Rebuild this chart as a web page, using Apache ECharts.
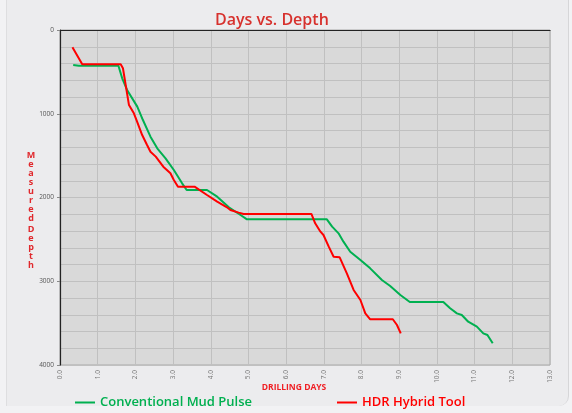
<!doctype html>
<html lang="en">
  <head>
    <meta charset="UTF-8" />
    <title>Days vs. Depth</title>
    <style>
      html,
      body {
        width: 100%;
        height: 100%;
        margin: 0;
        padding: 0;
        background: #f2f2f4;
        overflow: hidden;
      }
      #card {
        position: absolute;
        left: 6px;
        top: -12px;
        width: 561px;
        height: 418px;
        background: #ececee;
        border-left: 1px solid #dedee0;
        border-right: 1px solid #d6d6d8;
        border-radius: 0 0 10px 0;
      }
      #Echart {
        position: absolute;
        left: 0;
        top: 0;
        width: 572px;
        height: 413px;
      }
    </style>
  </head>

  <body>
    <div id="card"></div>
    <div id="Echart"></div>
    <script type="text/javascript" src="https://cdn.jsdelivr.net/npm/echarts@6/dist/echarts.min.js"></script>
    <script type="text/javascript">
      const mudDays = [0.35, 0.5, 1.55, 1.65, 1.78, 2.05, 2.2, 2.4, 2.58, 2.8, 3.02, 3.24, 3.36, 3.9, 4.17, 4.48, 4.79, 4.96, 7.08, 7.22, 7.39, 7.52, 7.7, 7.97, 8.23, 8.54, 8.76, 9.03, 9.28, 10.17, 10.35, 10.53, 10.66, 10.83, 11.06, 11.23, 11.34, 11.48]
      const mudDepth = [418, 426, 426, 577, 716, 915, 1075, 1274, 1413, 1532, 1672, 1831, 1910, 1910, 1990, 2117, 2209, 2261, 2261, 2348, 2428, 2527, 2647, 2746, 2846, 2985, 3057, 3164, 3247, 3247, 3323, 3383, 3403, 3483, 3542, 3622, 3642, 3741]
      const hdrDays = [0.33, 0.59, 1.61, 1.67, 1.83, 1.96, 2.03, 2.18, 2.31, 2.4, 2.54, 2.74, 2.93, 3.02, 3.13, 3.57, 3.9, 4.17, 4.43, 4.52, 4.74, 4.87, 6.67, 6.77, 6.91, 6.99, 7.13, 7.26, 7.42, 7.61, 7.79, 7.97, 8.1, 8.23, 8.83, 8.94, 9.04]
      const hdrDepth = [207, 410, 410, 457, 896, 995, 1075, 1254, 1373, 1453, 1512, 1632, 1711, 1791, 1871, 1871, 1970, 2050, 2117, 2149, 2181, 2197, 2197, 2308, 2408, 2448, 2587, 2707, 2714, 2905, 3104, 3224, 3383, 3454, 3454, 3522, 3622]
      const seriesNames = ['Conventional Mud Pulse', 'HDR Hybrid Tool']
      const seriesColors = ['#00b050', '#ff0000']

      const pairs = (xs, ys) => xs.map((x, i) => [x, ys[i]])
      const font = "'Open Sans', 'Noto Sans', sans-serif"

      let chart = null
      function initEchart() {
        const option = {
          animation: false,
          title: {
            text: 'Days vs. Depth',
            left: 210,
            top: 7,
            textStyle: {
              color: '#d7312d',
              fontSize: 16,
              fontWeight: 600,
              fontFamily: font,
            },
          },
          legend: [
            {
              left: 70,
              top: 391,
              icon: 'rect',
              itemWidth: 20,
              itemHeight: 2,
              itemGap: 4,
              data: [{ name: seriesNames[0], textStyle: { color: seriesColors[0] } }],
              textStyle: { fontSize: 13, fontWeight: 600, fontFamily: font },
            },
            {
              left: 332,
              top: 391,
              icon: 'rect',
              itemWidth: 20,
              itemHeight: 2,
              itemGap: 4,
              data: [{ name: seriesNames[1], textStyle: { color: seriesColors[1] } }],
              textStyle: { fontSize: 13, fontWeight: 600, fontFamily: font },
            },
          ],
          grid: {
            left: 60,
            right: 22,
            top: 30,
            bottom: 48,
            show: true,
            backgroundColor: '#d9d9d9',
            borderColor: '#a8a8a8',
            borderWidth: 1,
          },
          xAxis: {
            type: 'value',
            min: 0,
            max: 13,
            interval: 1,
            axisLine: { show: true, lineStyle: { color: '#222', width: 1.2 } },
            axisTick: { show: false },
            axisLabel: {
              rotate: 90,
              margin: 5,
              fontSize: 6.5,
              color: '#777',
              fontFamily: font,
              formatter: (v) => v.toFixed(1),
            },
            splitLine: { show: true, lineStyle: { color: '#c0c0c0', width: 1 } },
          },
          yAxis: {
            type: 'value',
            inverse: true,
            min: 0,
            max: 4000,
            interval: 1000,
            axisLine: { show: true, lineStyle: { color: '#222', width: 1.2 } },
            axisTick: { show: true, length: 3, lineStyle: { color: '#888' } },
            axisLabel: {
              margin: 6,
              fontSize: 6.5,
              color: '#555',
              fontFamily: font,
              formatter: (v) => String(v),
            },
            splitLine: { show: true, lineStyle: { color: '#c0c0c0', width: 1 } },
            minorTick: { show: false, splitNumber: 5 },
            minorSplitLine: { show: true, lineStyle: { color: '#c0c0c0', width: 1 } },
          },
          graphic: [
            {
              type: 'text',
              style: {
                text: 'DRILLING DAYS',
                x: 294,
                y: 388,
                align: 'center',
                verticalAlign: 'middle',
                fill: '#f01e23',
                font: `bold 8.5px ${font}`,
              },
            },
            {
              type: 'text',
              style: {
                text: 'M\ne\na\ns\nu\nr\ne\nd',
                x: 31,
                y: 151,
                align: 'center',
                lineHeight: 9,
                fill: '#e0282c',
                font: `bold 9px ${font}`,
              },
            },
            {
              type: 'text',
              style: {
                text: 'D\ne\np\nt\nh',
                x: 31,
                y: 225,
                align: 'center',
                lineHeight: 9,
                fill: '#e0282c',
                font: `bold 9px ${font}`,
              },
            },
          ],
          series: [
            {
              name: seriesNames[0],
              type: 'line',
              color: seriesColors[0],
              symbol: 'none',
              lineStyle: { width: 2 },
              data: pairs(mudDays, mudDepth),
            },
            {
              name: seriesNames[1],
              type: 'line',
              color: seriesColors[1],
              symbol: 'none',
              lineStyle: { width: 2 },
              data: pairs(hdrDays, hdrDepth),
            },
          ],
        }
        chart = echarts.init(document.getElementById('Echart'))
        chart.setOption(option)
      }
      window.onload = initEchart
    </script>
  </body>
</html>
